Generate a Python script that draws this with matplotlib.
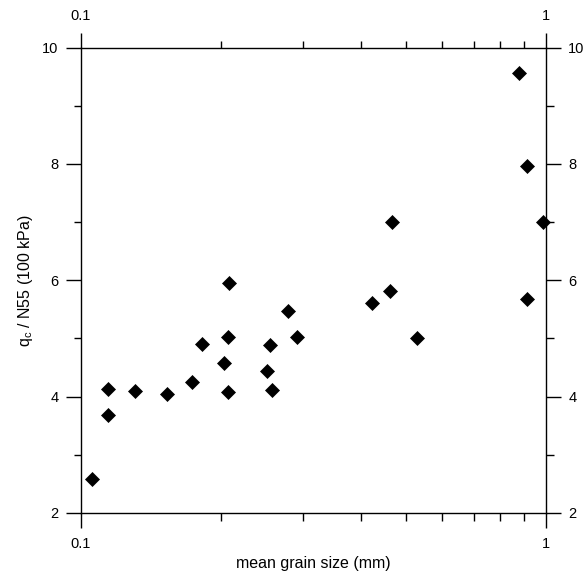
import matplotlib
matplotlib.use("Agg")
import matplotlib.pyplot as plt
from matplotlib.ticker import MultipleLocator, NullFormatter, LogLocator

# mean grain size (mm) and qc/N55 (100 kPa)
grain_size = [0.1054, 0.1145, 0.1141, 0.1307, 0.1533, 0.1731, 0.1819, 0.2075,
              0.2034, 0.2069, 0.2085, 0.2793, 0.2912, 0.2551, 0.2510, 0.2580,
              0.4663, 0.4623, 0.4236, 0.5277, 0.8776, 0.9103, 0.9880, 0.9130]
qc_n55 = [2.58, 4.13, 3.68, 4.09, 4.05, 4.25, 4.90, 5.02,
          4.57, 4.08, 5.96, 5.47, 5.02, 4.88, 4.44, 4.11,
          7.00, 5.81, 5.61, 5.01, 9.57, 7.96, 7.00, 5.68]

x_ticks = [0.1, 1]
x_ticklabels = ["0.1", "1"]
y_ticks = [2, 4, 6, 8, 10]

plt.rcParams["font.family"] = ["Liberation Sans", "DejaVu Sans"]
plt.rcParams["font.size"] = 10.5

fig = plt.figure(figsize=(5.87, 5.78), dpi=100)
ax = fig.add_axes([81 / 587, 65 / 578, 464.5 / 587, 465.5 / 578])

ax.plot(grain_size, qc_n55, linestyle="none", marker="D", markersize=7.6,
        color="black", markeredgewidth=0.5, clip_on=False, zorder=3)

ax.set_xscale("log")
ax.set_xlim(0.1, 1)
ax.set_ylim(2, 10)
ax.set_xticks(x_ticks)
ax.set_xticklabels(x_ticklabels)
ax.xaxis.set_minor_locator(LogLocator(base=10, subs=range(2, 10)))
ax.xaxis.set_minor_formatter(NullFormatter())
ax.set_yticks(y_ticks)
ax.set_yticklabels([str(v) for v in y_ticks])
ax.yaxis.set_minor_locator(MultipleLocator(1))

ax.tick_params(which="both", direction="out", top=True, right=True,
               labeltop=True, labelright=True, width=1.0, color="black")
ax.tick_params(which="major", length=10.8)
ax.tick_params(which="minor", length=5.4)
ax.xaxis.set_tick_params(which="major", pad=6.5)
ax.yaxis.set_tick_params(which="major", pad=5.5)
for s in ax.spines.values():
    s.set_linewidth(1.0)

ax.set_xlabel("mean grain size (mm)", fontsize=11.5, labelpad=3.5)
ax.set_ylabel(r"q$_\mathregular{c}$ / N55 (100 kPa)", fontsize=11.5, labelpad=5)

fig.savefig("out.png", dpi=100)
